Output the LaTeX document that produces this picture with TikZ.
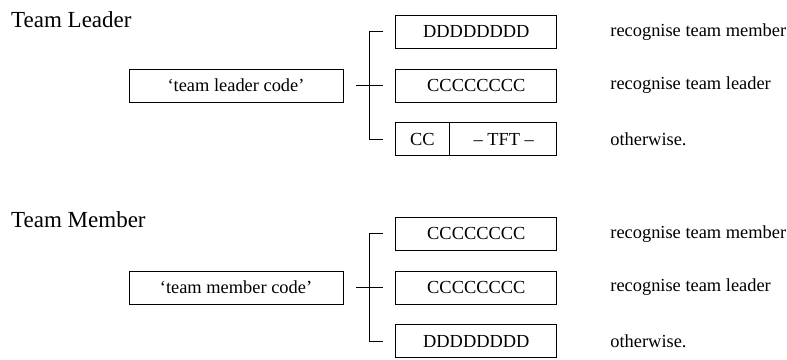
\documentclass[tikz,border=0pt]{standalone}
\usepackage{fontspec}
\setmainfont{Liberation Serif}
\usetikzlibrary{positioning,calc}

\begin{document}
\begin{tikzpicture}[x=1pt, y=-1pt,
  codebox/.style={draw, line width=0.8pt, inner sep=0pt, minimum width=214pt, minimum height=33pt, align=center, font=\fontsize{18.4}{22}\selectfont},
  optbox/.style={draw, line width=0.8pt, inner sep=0pt, minimum width=161pt, minimum height=33pt, align=center, font=\fontsize{18.4}{22}\selectfont},
  remark/.style={anchor=west, inner sep=0pt, font=\fontsize{18.4}{22}\selectfont},
  heading/.style={anchor=base west, inner sep=0pt, font=\fontsize{23}{27}\selectfont},
  brack/.style={line width=0.8pt}
]
  \useasboundingbox (0,0) rectangle (787,359);

  % team leader
  \node[heading] (tlhead) at (11,27) {Team Leader};
  \node[codebox] (tl) at (236,85.5) {`team leader code'};
  \node[optbox, right=52pt of tl] (tl2) {CCCCCCCC};
  \node[optbox, above=20pt of tl2] (tl1) {DDDDDDDD};
  \node[optbox, below=20pt of tl2] (tl3) {};
  \draw[brack] ([xshift=54pt]tl3.north west) -- ([xshift=54pt]tl3.south west);
  \node (tlcc) at ($(tl3.west)+(27pt,0)$) [font=\fontsize{18.4}{22}\selectfont, inner sep=0pt] {CC};
  \node (tltft) at ($(tl3.east)+(-53.5pt,0)$) [font=\fontsize{18.4}{22}\selectfont, inner sep=0pt] {-- TFT --};
  \coordinate (tlj) at ($(tl.east)!0.5!(tl2.west)$);
  \draw[brack] ([xshift=-13pt]tlj) -- ([xshift=14pt]tlj);
  \draw[brack] ([xshift=14pt]tlj |- tl1.west) -| (tlj |- tl3.west) -- ([xshift=14pt]tlj |- tl3.west);
  \node[remark, right=53pt of tl1] (tlr1) {recognise team member};
  \node[remark, right=53pt of tl2] (tlr2) {recognise team leader};
  \node[remark, right=53pt of tl3] (tlr3) {otherwise.};

  % team member
  \node[heading] (tmhead) at (11,227) {Team Member};
  \node[codebox] (tm) at (236,287.5) {`team member code'};
  \node[optbox, right=52pt of tm] (tm2) {CCCCCCCC};
  \node[optbox, above=20pt of tm2] (tm1) {CCCCCCCC};
  \node[optbox, below=20pt of tm2] (tm3) {DDDDDDDD};
  \coordinate (tmj) at ($(tm.east)!0.5!(tm2.west)$);
  \draw[brack] ([xshift=-13pt]tmj) -- ([xshift=14pt]tmj);
  \draw[brack] ([xshift=14pt]tmj |- tm1.west) -| (tmj |- tm3.west) -- ([xshift=14pt]tmj |- tm3.west);
  \node[remark, right=53pt of tm1] (tmr1) {recognise team member};
  \node[remark, right=53pt of tm2] (tmr2) {recognise team leader};
  \node[remark, right=53pt of tm3] (tmr3) {otherwise.};
\end{tikzpicture}
\end{document}
